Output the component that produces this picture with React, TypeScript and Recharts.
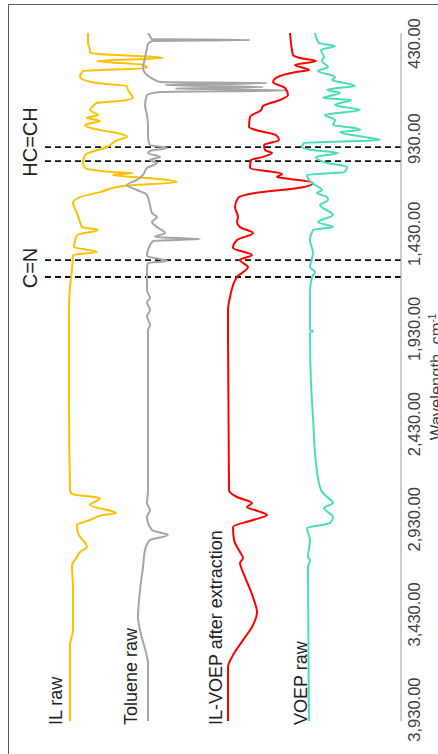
import React from 'react';
import { LineChart, Line, XAxis, YAxis, ReferenceLine } from 'recharts';

// FTIR spectra: wavenumber (cm-1) and stacked transmittance (a.u.)
const ilRawWn = [375, 428, 464, 480, 506, 522, 543, 559, 575, 606, 638, 654, 675, 717, 732, 743, 759, 780, 806, 822, 837, 858, 885, 900, 922, 937, 974, 1016, 1058, 1084, 1105, 1111, 1121, 1137, 1158, 1179, 1211, 1237, 1268, 1321, 1368, 1395, 1410, 1437, 1500, 1526, 1542, 1620, 1710, 1831, 2304, 2777, 2797, 2819, 2855, 2897, 2908, 2934, 2960, 3003, 3076, 3102, 3129, 3171, 3302, 3512, 3591, 3990];
const ilRawT = [313, 313, 311, 311, 238, 304, 258, 254, 318, 321, 304, 274, 273, 268, 281, 304, 308, 311, 303, 314, 301, 316, 301, 284, 274, 283, 294, 316, 318, 316, 289, 268, 288, 254, 224, 278, 301, 321, 328, 324, 321, 319, 303, 324, 327, 304, 328, 329, 331, 332, 332, 331, 329, 301, 311, 285, 298, 311, 324, 323, 314, 321, 324, 329, 328, 328, 331, 331];

const tolueneWn = [375, 391, 407, 412, 417, 433, 454, 506, 559, 596, 622, 632, 638, 648, 659, 667, 677, 685, 701, 753, 806, 858, 922, 964, 979, 995, 1006, 1027, 1042, 1058, 1084, 1121, 1147, 1174, 1200, 1226, 1279, 1321, 1342, 1368, 1395, 1426, 1447, 1458, 1468, 1515, 1547, 1573, 1584, 1605, 1726, 1768, 1789, 1831, 1862, 1910, 1936, 2777, 2845, 2882, 2918, 2987, 3013, 3039, 3092, 3181, 3302, 3444, 3512, 3654, 3686, 3990];
const tolueneT = [253, 251, 249, 151, 249, 253, 254, 256, 258, 254, 246, 241, 134, 236, 138, 226, 114, 241, 254, 256, 254, 253, 253, 251, 234, 251, 253, 241, 251, 244, 254, 258, 264, 274, 264, 254, 251, 249, 244, 249, 244, 236, 246, 201, 248, 253, 254, 234, 253, 254, 254, 251, 254, 251, 254, 251, 253, 253, 254, 251, 254, 249, 233, 251, 256, 258, 261, 263, 261, 254, 253, 253];

const ilVoepWn = [375, 428, 491, 506, 522, 543, 569, 580, 611, 632, 664, 701, 727, 759, 780, 816, 869, 885, 911, 937, 964, 990, 1006, 1027, 1042, 1084, 1116, 1132, 1142, 1163, 1190, 1216, 1242, 1289, 1342, 1368, 1395, 1426, 1463, 1505, 1542, 1568, 1605, 1657, 1762, 1831, 2777, 2813, 2845, 2866, 2887, 2908, 2934, 2971, 3039, 3102, 3134, 3160, 3181, 3234, 3355, 3418, 3486, 3565, 3644, 3707, 3990];
const ilVoepT = [111, 110, 108, 101, 85, 106, 92, 105, 125, 128, 116, 113, 121, 138, 140, 151, 152, 145, 125, 122, 137, 136, 129, 139, 150, 151, 119, 124, 111, 88, 103, 146, 163, 166, 163, 164, 161, 148, 164, 168, 149, 161, 153, 164, 171, 173, 172, 164, 149, 154, 143, 134, 148, 168, 167, 161, 158, 161, 160, 156, 147, 144, 148, 158, 168, 173, 173];

const voepWn = [375, 428, 443, 464, 501, 522, 554, 575, 606, 622, 638, 654, 664, 675, 690, 717, 727, 743, 753, 780, 806, 832, 858, 874, 885, 895, 922, 937, 953, 974, 990, 1006, 1027, 1058, 1079, 1105, 1121, 1163, 1200, 1216, 1237, 1253, 1279, 1331, 1368, 1395, 1410, 1463, 1531, 1605, 1631, 1657, 1741, 1936, 1941, 1952, 2214, 2393, 2635, 2777, 2813, 2845, 2871, 2918, 2950, 2976, 3039, 3129, 3144, 3181, 3990];
const voepT = [86, 82, 66, 80, 77, 79, 73, 83, 66, 69, 56, 46, 63, 74, 61, 78, 50, 61, 66, 41, 76, 66, 68, 46, 41, 61, 36, 21, 97, 99, 89, 63, 85, 74, 54, 56, 94, 89, 79, 84, 74, 73, 81, 68, 83, 68, 88, 91, 88, 91, 86, 89, 91, 91, 88, 91, 90, 88, 85, 80, 74, 68, 77, 68, 71, 94, 91, 93, 91, 93, 92];

const ticks = [430, 930, 1430, 1930, 2430, 2930, 3430, 3930];
const bandLines = [975, 1048, 1568, 1657];

const rows = (wn: number[], t: number[]) => wn.map((w, i) => ({ wn: w, t: t[i] }));

const series = [
  { name: 'IL raw', data: rows(ilRawWn, ilRawT), color: '#FFC000' },
  { name: 'Toluene raw', data: rows(tolueneWn, tolueneT), color: '#A5A5A5' },
  { name: 'IL-VOEP after extraction', data: rows(ilVoepWn, ilVoepT), color: '#FF0000' },
  { name: 'VOEP raw', data: rows(voepWn, voepT), color: '#4ADDB6' },
];

const FONT = '"Liberation Sans", Arial, sans-serif';
const fmt = (n: number) => n.toLocaleString('en-US', { minimumFractionDigits: 2, maximumFractionDigits: 2 });

export default function App() {
  return (
    <div style={{ position: 'absolute', left: 0, top: 0, width: 438, height: 754, overflow: 'hidden', background: '#fff' }}>
      <div style={{ position: 'absolute', left: 8, top: 4, width: 450, height: 770, borderTop: '1.5px solid #5a5a5a', borderLeft: '1.5px solid #5a5a5a' }} />
      {/* chart drawn landscape, then turned a quarter to the left */}
      <div style={{ position: 'absolute', left: 0, top: 0, width: 754, height: 438, transformOrigin: '0 0', transform: 'translateY(754px) rotate(-90deg)' }}>
        <LineChart width={754} height={438} margin={{ top: 1, right: 33, bottom: 0, left: 33 }} style={{ fontFamily: FONT }}>
          <XAxis
            type="number"
            dataKey="wn"
            domain={[375, 3990]}
            reversed
            allowDataOverflow
            ticks={ticks}
            tickFormatter={fmt}
            height={37}
            tickSize={0}
            tickMargin={7}
            stroke="#9a9a9a"
            tick={{ fill: '#404040', fontSize: 16.5, fontFamily: FONT }}
          />
          <YAxis type="number" domain={[0, 400]} hide width={0} allowDataOverflow />
          {bandLines.map((w) => (
            <ReferenceLine
              key={w}
              segment={[{ x: w, y: 0 }, { x: w, y: 356 }]}
              stroke="#111"
              strokeWidth={1.8}
              strokeDasharray="6 4"
            />
          ))}
          {series.map((s) => (
            <Line
              key={s.name}
              data={s.data}
              dataKey="t"
              type="monotone"
              stroke={s.color}
              strokeWidth={2}
              dot={false}
              isAnimationActive={false}
            />
          ))}
        </LineChart>
        <svg width={754} height={438} style={{ position: 'absolute', left: 0, top: 0, pointerEvents: 'none' }} fontFamily={FONT}>
          <text x={29} y={62} fontSize={18} fill="#222">IL raw</text>
          <text x={29} y={137} fontSize={18} fill="#222">Toluene raw</text>
          <text x={29} y={222} fontSize={18} fill="#222">IL-VOEP after extraction</text>
          <text x={29} y={307} fontSize={18} fill="#222">VOEP raw</text>
          <text x={612} y={37} fontSize={20} fill="#222" textAnchor="middle">HC=CH</text>
          <text x={486} y={37} fontSize={20} fill="#222" textAnchor="middle">C=N</text>
          <text x={377} y={442} fontSize={16.5} fill="#404040" textAnchor="middle">
            Wavelength, cm<tspan dy={-6} fontSize={10}>-1</tspan>
          </text>
        </svg>
      </div>
    </div>
  );
}
